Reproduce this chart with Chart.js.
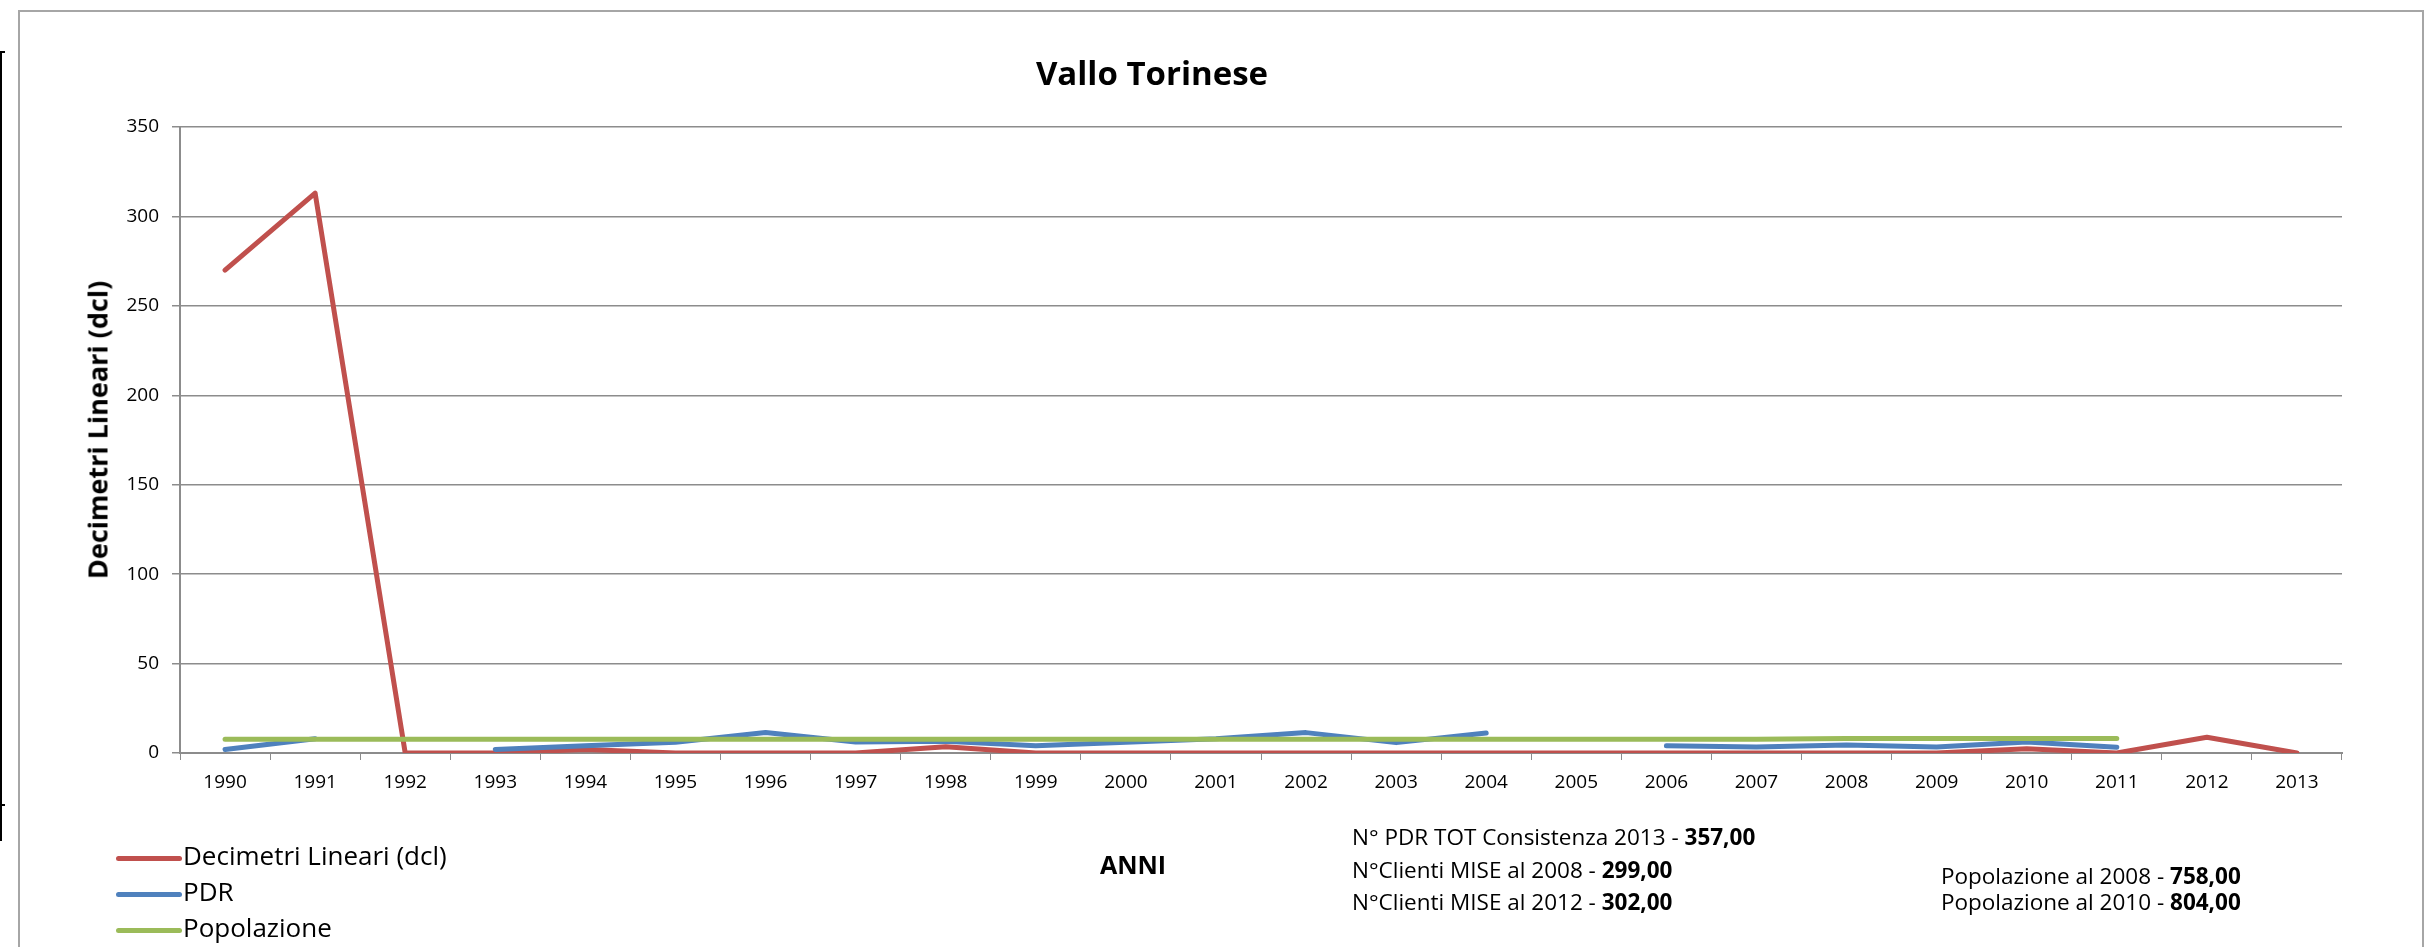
<!DOCTYPE html>
<html>
<head>
<meta charset="utf-8">
<script src="https://cdn.jsdelivr.net/npm/chart.js@4/dist/chart.umd.min.js"></script>
<style>
  body { margin: 0; background: #fff; font-family: 'Open Sans', sans-serif; }
  #wrap { position: relative; width: 2434px; height: 947px; overflow: hidden; }
  #frame { position: absolute; left: 18px; top: 10px; width: 2402px; height: 1000px; border: 2px solid #a6a6a6; }
  #edge { position: absolute; left: 0; top: 51px; width: 2px; height: 790px; background: #000; }
  .stub { position: absolute; left: 0; width: 5px; height: 2px; background: #000; }
  canvas { position: absolute; left: 0; top: 0; }
  .txt { position: absolute; white-space: nowrap; color: #000; }
  #title { left: 1152px; top: 72px; transform: translate(-50%, -50%); font-weight: bold; font-size: 33px; }
  #yTitle { left: 97px; top: 430px; transform: translate(-50%, -50%) rotate(-90deg); font-weight: bold; font-size: 27px; }
  #anni { left: 1133px; top: 864px; transform: translate(-50%, -50%); font-weight: bold; font-size: 25px; }
  .leg { position: absolute; left: 116px; font-size: 26px; line-height: 1; white-space: nowrap; }
  .leg span { display: inline-block; width: 66px; height: 5px; border-radius: 3px; vertical-align: middle; margin-right: 1px; }
  .note { font-size: 22.5px; line-height: 1; }
</style>
</head>
<body>
<div id="wrap">
  <div id="frame"></div>
  <div id="edge"></div>
  <div class="stub" style="top:51px"></div>
  <div class="stub" style="top:804px"></div>
  <canvas id="chartBox" width="2434" height="947"></canvas>
  <div class="txt" id="title">Vallo Torinese</div>
  <div class="txt" id="yTitle">Decimetri Lineari (dcl)</div>
  <div class="txt" id="anni">ANNI</div>
  <div id="legendBox"></div>
  <div class="txt note" style="left:1352px; top:826px">N° PDR TOT Consistenza 2013 - <b>357,00</b></div>
  <div class="txt note" style="left:1352px; top:859px">N°Clienti MISE al 2008 - <b>299,00</b></div>
  <div class="txt note" style="left:1352px; top:891px">N°Clienti MISE al 2012 - <b>302,00</b></div>
  <div class="txt note" style="left:1941px; top:865px">Popolazione al 2008 - <b>758,00</b></div>
  <div class="txt note" style="left:1941px; top:891px">Popolazione al 2010 - <b>804,00</b></div>
</div>
<script>
const years = ['1990', '1991', '1992', '1993', '1994', '1995', '1996', '1997', '1998', '1999', '2000', '2001',
    '2002', '2003', '2004', '2005', '2006', '2007', '2008', '2009', '2010', '2011', '2012', '2013']
const decimetri = [270, 313, 0, 0, 2, 0, 0, 0, 3.5, 0, 0, 0, 0, 0, 0, 0, 0, 0, 0, 0, 2.4, 0, 8.8, 0]
const pdr = [2, 8, null, 2, 4, 6, 11.4, 6.2, 6.5, 4, 6, 8, 11.4, 5.8, 11.2, null, 4, 3.4, 4.5, 3.4, 6.1, 3.2, null, null]
const popolazione = [7.7, 7.7, 7.7, 7.7, 7.7, 7.7, 7.7, 7.7, 7.7, 7.7, 7.7, 7.7, 7.7, 7.7, 7.7, 7.7, 7.7, 7.7, 8.1, 8.1, 8.1, 8.1, null, null]
const yTicks = [0, 50, 100, 150, 200, 250, 300, 350]

const seriesNames = ['Decimetri Lineari (dcl)', 'PDR', 'Popolazione']
const seriesColors = ['#c0504d', '#4f81bd', '#9bbb59']
const gridGray = '#8c8c8c'
const fontFamily = "'Open Sans', sans-serif"

// legend as text rows under the chart
seriesNames.forEach((name, i) => {
    const row = document.createElement('div')
    row.className = 'leg'
    row.style.top = (842 + i * 36) + 'px'
    row.innerHTML = '<span style="background:' + seriesColors[i] + '"></span>' + name
    document.querySelector('#legendBox').appendChild(row)
})

const makeSet = (i, data, order) => ({
    label: seriesNames[i],
    data,
    borderColor: seriesColors[i],
    backgroundColor: seriesColors[i],
    borderWidth: 5,
    pointRadius: 0,
    tension: 0,
    spanGaps: false,
    borderCapStyle: 'round',
    borderJoinStyle: 'round',
    order
})

const context = document.querySelector('#chartBox').getContext('2d')
const chart = new Chart(context, {
    type: 'line',
    data: {
        labels: years,
        datasets: [
            makeSet(0, decimetri, 2),
            makeSet(1, pdr, 1),
            makeSet(2, popolazione, 0)
        ]
    },
    options: {
        responsive: false,
        animation: false,
        layout: { padding: { left: 0, right: 92, top: 127, bottom: 0 } },
        plugins: {
            legend: { display: false },
            title: { display: false },
            tooltip: { enabled: false }
        },
        scales: {
            x: {
                offset: true,
                grid: { display: true, drawOnChartArea: false, drawTicks: true, tickLength: 7, color: gridGray, offset: true },
                border: { color: gridGray, width: 2 },
                ticks: { color: '#000', font: { family: fontFamily, size: 19 }, padding: 11, maxRotation: 0, autoSkip: false },
                afterFit: (scale) => { scale.height = 194 }
            },
            y: {
                min: 0,
                max: 350,
                afterBuildTicks: (scale) => { scale.ticks = yTicks.map(v => ({ value: v })) },
                grid: { color: gridGray, lineWidth: 1.5, tickLength: 8 },
                border: { color: gridGray, width: 2 },
                ticks: { color: '#000', font: { family: fontFamily, size: 19 }, padding: 13 },
                afterFit: (scale) => { scale.width = 180 }
            }
        }
    }
})
</script>
</body>
</html>
